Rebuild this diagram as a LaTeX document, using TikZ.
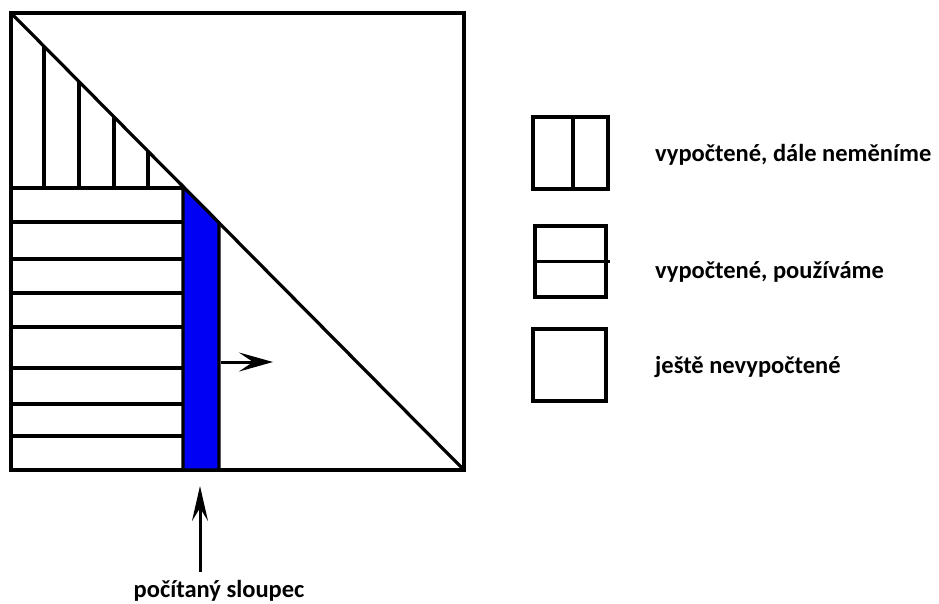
\documentclass[tikz,border=0pt]{standalone}
\usepackage{fontspec}
\setmainfont{Carlito}
\usepackage{tikz}
\usetikzlibrary{arrows.meta,positioning}
\definecolor{colblue}{HTML}{0000F5}

\begin{document}
\begin{tikzpicture}[
  x=1pt, y=-1pt,
  ln/.style={line width=3.2pt},
  txt/.style={font=\fontsize{24.5}{28}\selectfont\bfseries, inner sep=0pt},
  legbox/.style={draw, line width=3.2pt, minimum width=73pt, minimum height=72pt, inner sep=0pt}
]
\useasboundingbox (0,0) rectangle (939,603);

% Matrix
\coordinate (tl) at (11,13);
\coordinate (br) at (464,470);
\draw[ln] (tl) rectangle (br);
\draw[ln] (tl) -- (br);

% Vertical hatching (fixed)
\foreach \x in {44,79,114,148} {
  \pgfmathsetmacro\yd{13+(\x-11)/453*457}
  \draw[ln] (\x,188) -- (\x,\yd);
}

% Horizontal hatching (used)
\foreach \y in {188,222,259,293,327,368,404,436}
  \draw[ln] (11,\y) -- (183,\y);

% Current column
\filldraw[ln, fill=colblue] (183,186.5) -- (219,222.8) -- (219,470) -- (183,470) -- cycle;

% Direction
\coordinate (mvA) at (221,362);
\coordinate (mvB) at (273,362);
\draw[line width=3pt, -{Stealth[length=34pt,width=19pt,inset=14pt]}] (mvA) -- (mvB);

% Column label
\node[txt] (colname) at (219,591) {počítaný sloupec};
\coordinate (colhead) at (200,486);
\draw[line width=3pt, -{Stealth[length=35pt,width=16pt,inset=13pt]}] ([yshift=8pt]colname.north -| colhead) -- (colhead);

% Legend
\node[legbox, minimum width=75pt] (fixedbox) at (570.5,153) {};
\draw[ln] ([xshift=2.5pt]fixedbox.north) -- ([xshift=2.5pt]fixedbox.south);
\node[legbox, minimum width=71pt, minimum height=71pt] (usedbox) at (570.5,261.5) {};
\draw[ln] (usedbox.west) -- ([xshift=2pt]usedbox.east);
\node[legbox] (openbox) at (569.5,365) {};

\node[txt, anchor=west] (fixedtxt) at (655,155) {vypočtené, dále neměníme};
\node[txt, anchor=west] (usedtxt) at (655,272) {vypočtené, používáme};
\node[txt, anchor=west] (opentxt) at (655,367) {ještě nevypočtené};
\end{tikzpicture}
\end{document}
